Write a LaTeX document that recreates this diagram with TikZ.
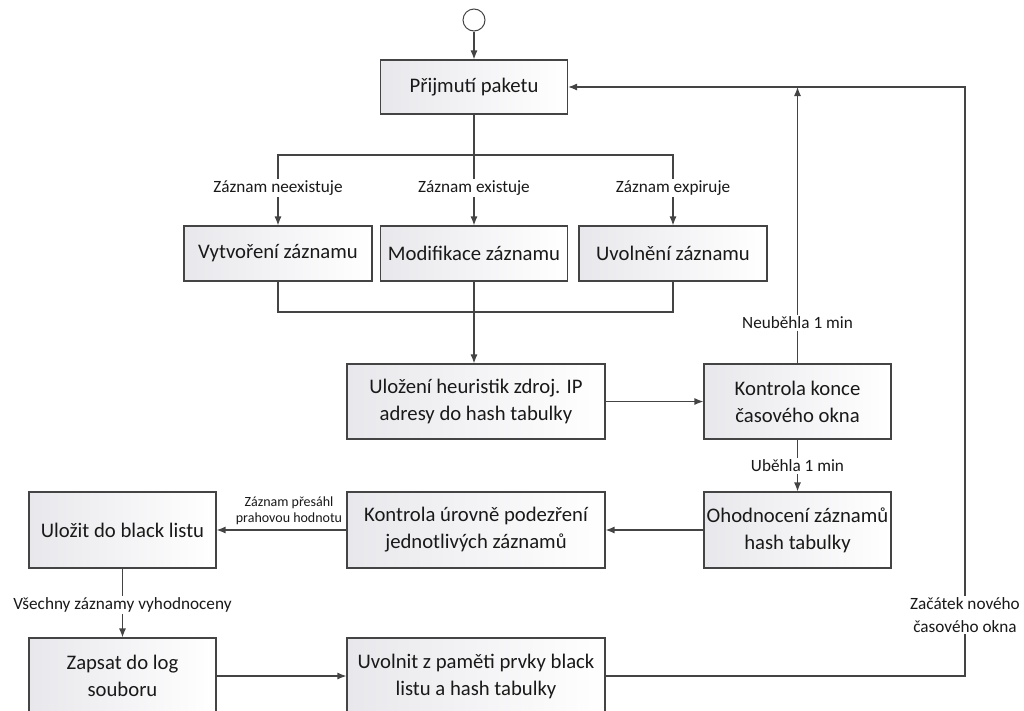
\documentclass[tikz,border=0pt]{standalone}
\usepackage{fontspec}
\setmainfont{Carlito}
\usetikzlibrary{arrows.meta}
\definecolor{edge}{HTML}{444444}
\definecolor{shade}{HTML}{E8E8EC}
\newcommand{\bx}{\fontsize{20.7}{27}\selectfont}
\newcommand{\lb}{\fontsize{17.2}{23}\selectfont}
\newcommand{\sm}{\fontsize{14}{15.5}\selectfont}

\begin{document}
\begin{tikzpicture}[x=1pt,y=-1pt,
   box/.style={draw=edge,line width=1.1pt,left color=shade,right color=white,
               inner sep=0pt,align=center,font=\bx,text=black!90},
   lbl/.style={fill=white,inner sep=1.5pt,align=center,font=\lb,text=black!90},
   con/.style={draw=edge,line width=1.2pt},
   >={Latex[length=9pt,width=7pt]}]
   \useasboundingbox (0,0) rectangle (1024,710);
   % boxes
   \node[circle,draw=edge,line width=1pt,minimum size=22pt,inner sep=0pt] (start) at (474,20) {};
   \node[box,minimum width=187pt,minimum height=54pt] (prijmuti)   at (474.0, 87.0) {Přijmutí paketu};
   \node[box,minimum width=188pt,minimum height=55pt] (vytvoreni)  at (278.0,253.5) {Vytvoření záznamu};
   \node[box,minimum width=187pt,minimum height=55pt] (modifikace) at (474.0,253.5) {Modifikace záznamu};
   \node[box,minimum width=188pt,minimum height=55pt] (uvolneni)   at (673.0,253.5) {Uvolnění záznamu};
   \node[box,minimum width=258pt,minimum height=75pt] (ulozeni)    at (476.0,401.5) {Uložení heuristik zdroj. IP\\adresy do hash tabulky};
   \node[box,minimum width=187pt,minimum height=75pt] (konce)      at (797.5,401.5) {Kontrola konce\\časového okna};
   \node[box,minimum width=187pt,minimum height=76pt] (ohodnoceni) at (797.5,530.0) {Ohodnocení záznamů\\hash tabulky};
   \node[box,minimum width=258pt,minimum height=76pt] (kontrola)   at (476.0,530.0) {Kontrola úrovně podezření\\jednotlivých záznamů};
   \node[box,minimum width=187pt,minimum height=76pt] (ulozit)     at (122.5,530.0) {Uložit do black listu};
   \node[box,minimum width=187pt,minimum height=76pt] (zapsat)     at (122.5,676.0) {Zapsat do log\\souboru};
   \node[box,minimum width=258pt,minimum height=76pt] (uvolnit)    at (476.0,676.0) {Uvolnit z paměti prvky black\\listu a hash tabulky};
   % branching
   \coordinate (split)  at (474,155);
   \coordinate (merge)  at (474,312);
   \coordinate (corner) at (965,676);
   \draw[con,->] (start) -- (prijmuti);
   \draw[con] (prijmuti) -- (split);
   \draw[con,->] (split) -| (vytvoreni);
   \draw[con,->] (split) -- (modifikace);
   \draw[con,->] (split) -| (uvolneni);
   \draw[con] (vytvoreni) |- (merge);
   \draw[con] (uvolneni) |- (merge);
   \draw[con] (modifikace) -- (merge);
   \draw[con,->] (merge) -- (merge |- ulozeni.north);
   \draw[con,->] (ulozeni) -- (konce);
   \draw[con,->] (konce) -- (konce |- prijmuti.east);
   \draw[con,->] (konce) -- (ohodnoceni);
   \draw[con,->] (ohodnoceni) -- (kontrola);
   \draw[con,->] (kontrola) -- (ulozit);
   \draw[con,->] (ulozit) -- (zapsat);
   \draw[con,->] (zapsat) -- (uvolnit);
   \draw[con,->] (uvolnit) -- (corner) |- (prijmuti);
   % labels
   \node[lbl] (lneex)  at (278.0,188) {Záznam neexistuje};
   \node[lbl] (lex)    at (474.0,188) {Záznam existuje};
   \node[lbl] (lexp)   at (673.0,188) {Záznam expiruje};
   \node[lbl] (lneub)  at (797.5,323) {Neuběhla 1 min};
   \node[lbl] (lub)    at (797.5,466) {Uběhla 1 min};
   \node[lbl,font=\sm,inner sep=1pt] (lpres) at (289.0,511) {Záznam přesáhl\\prahovou hodnotu};
   \node[lbl] (lvse)   at (122.5,605) {Všechny záznamy vyhodnoceny};
   \node[lbl] (lzac)   at (965.0,615) {Začátek nového\\časového okna};
\end{tikzpicture}
\end{document}
